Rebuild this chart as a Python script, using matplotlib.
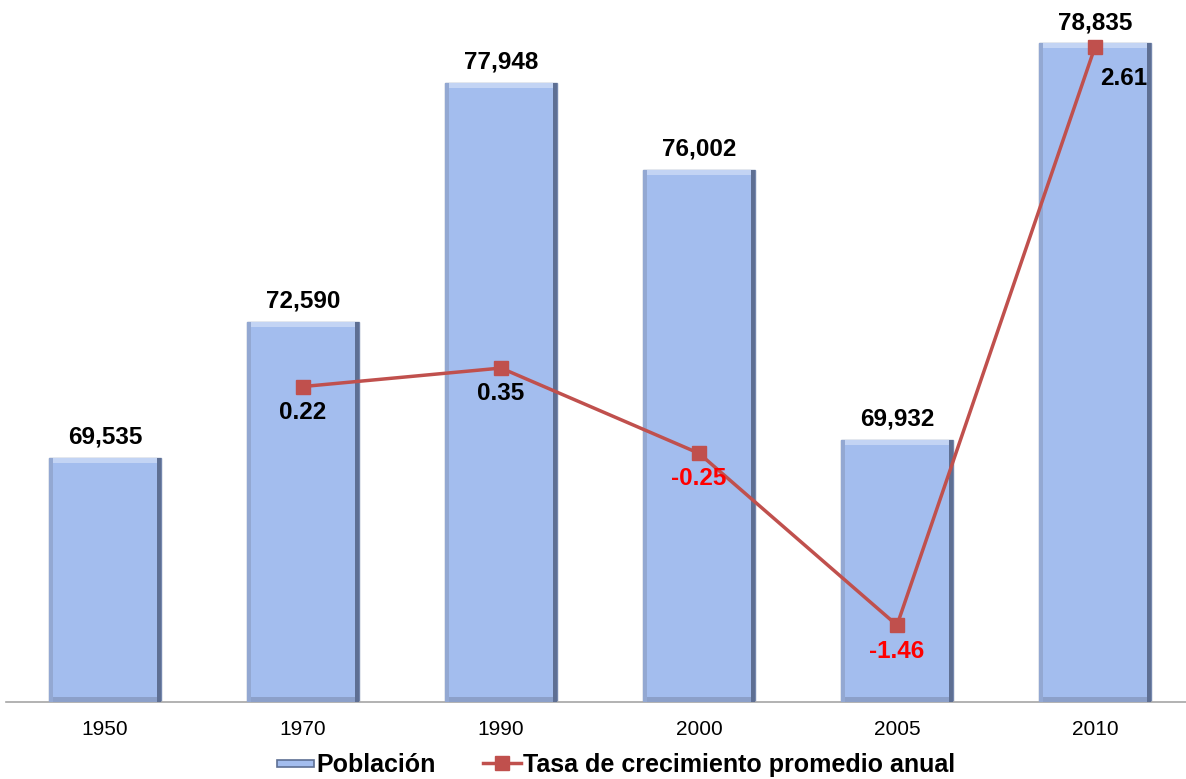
import matplotlib
matplotlib.use("Agg")
import matplotlib.pyplot as plt
from matplotlib.patches import Rectangle
from matplotlib.lines import Line2D
from matplotlib.legend_handler import HandlerPatch
import numpy as np

plt.rcParams['font.family'] = ['Liberation Sans', 'DejaVu Sans']

# datos
years = ['1950', '1970', '1990', '2000', '2005', '2010']
poblacion = [69535, 72590, 77948, 76002, 69932, 78835]
tasa_years = ['1970', '1990', '2000', '2005', '2010']
tasa = [0.22, 0.35, -0.25, -1.46, 2.61]

bar_color = '#A3BDEE'
line_color = '#C0504D'
y_min, y_max = 64060, 79811

fig = plt.figure(figsize=(11.86, 7.79), dpi=100)
ax = fig.add_axes([6 / 1186, 77 / 779, 1188 / 1186, 702 / 779])
ax.set_xlim(-0.5, 5.5)
ax.set_ylim(y_min, y_max)

x = np.arange(len(years))
w = 0.565
h = np.array(poblacion) - y_min

# barras con un poco de relieve
ax.bar(x, h, width=w, bottom=y_min, color=bar_color, edgecolor='#7587AD', linewidth=1.0, zorder=2)
dx = 0.022
dy = 110
ax.bar(x - w / 2 + dx / 2, h, width=dx, bottom=y_min, color='#93A8D2', linewidth=0, zorder=3)
ax.bar(x + w / 2 - dx / 2, h, width=dx, bottom=y_min, color='#5E6F93', linewidth=0, zorder=3)
ax.bar(x, dy, width=w - 2 * dx, bottom=np.array(poblacion) - dy, color='#C3D4F4', linewidth=0, zorder=3)
ax.bar(x, dy, width=w - 2 * dx, bottom=y_min, color='#8CA0C9', linewidth=0, zorder=3)

for xi, v in zip(x, poblacion):
    ax.annotate(f'{v:,}', (xi, v), xytext=(0, 15), textcoords='offset points',
                ha='center', va='center', fontsize=17.5, fontweight='bold', zorder=5)

ax.set_xticks(x)
ax.set_xticklabels(years, fontsize=15)
ax.tick_params(axis='x', length=0, pad=13)
ax.set_yticks([])
for s in ['top', 'right', 'left']:
    ax.spines[s].set_visible(False)
ax.spines['bottom'].set_color('#A6A6A6')
ax.spines['bottom'].set_linewidth(1.2)

# tasa de crecimiento
ax2 = ax.twinx()
ax2.set_ylim(-2.0, 2.94)
ax2.set_yticks([])
for s in ax2.spines.values():
    s.set_visible(False)
xt = [years.index(t) for t in tasa_years]
ax2.plot(xt, tasa, color=line_color, lw=2.5, marker='s', markersize=10, zorder=4)

offsets = [(0, -19), (0, -18), (0, -18), (0, -19), (21, -23)]
for xi, v, off in zip(xt, tasa, offsets):
    ax2.annotate(f'{v:.2f}', (xi, v), xytext=off, textcoords='offset points',
                 ha='center', va='center', fontsize=17.5, fontweight='bold',
                 color='red' if v < 0 else 'black', zorder=5)


def flat_patch(legend, orig_handle, xdescent, ydescent, width, height, fontsize):
    return Rectangle((-xdescent, -ydescent + height * 0.3), width, height * 0.4)


handles = [Rectangle((0, 0), 1, 1, facecolor=bar_color, edgecolor='#5E6F93', linewidth=1.2),
           Line2D([], [], color=line_color, lw=2.5, marker='s', markersize=10)]
fig.legend(handles, ['Población', 'Tasa de crecimiento promedio anual'],
           loc='center', bbox_to_anchor=(616 / 1186, 1 - 765 / 779), ncol=2,
           frameon=False, prop={'size': 18, 'weight': 'bold'},
           handlelength=1.5, handletextpad=0.1, columnspacing=1.9,
           handler_map={Rectangle: HandlerPatch(patch_func=flat_patch)})

fig.savefig('out.png', dpi=100)
